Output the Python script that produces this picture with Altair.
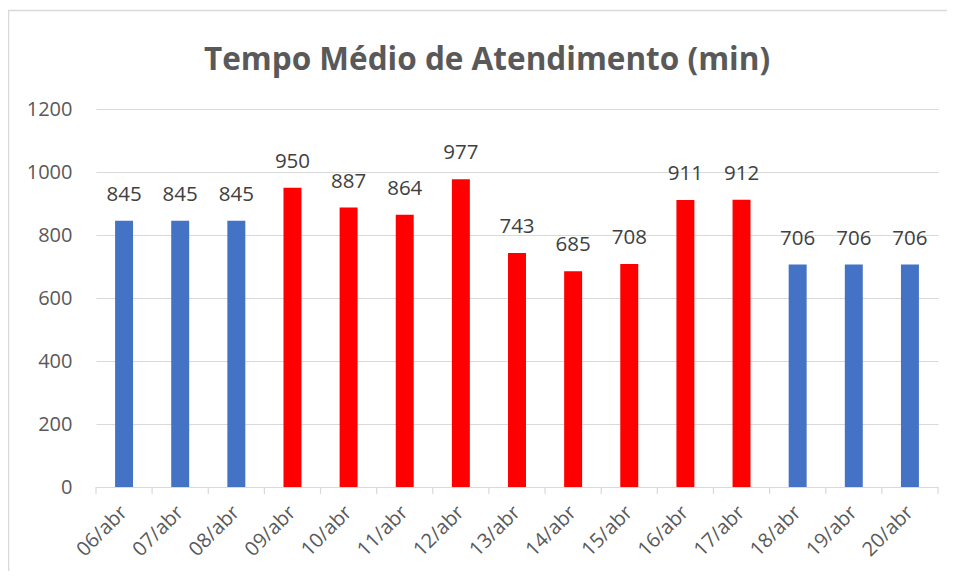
import altair as alt
import pandas as pd

dias = ["06/abr", "07/abr", "08/abr", "09/abr", "10/abr", "11/abr", "12/abr",
        "13/abr", "14/abr", "15/abr", "16/abr", "17/abr", "18/abr", "19/abr", "20/abr"]
valores = [845, 845, 845, 950, 887, 864, 977, 743, 685, 708, 911, 912, 706, 706, 706]
grupos = ["azul", "azul", "azul", "vermelho", "vermelho", "vermelho", "vermelho",
          "vermelho", "vermelho", "vermelho", "vermelho", "vermelho", "azul", "azul", "azul"]
y_ticks = [0, 200, 400, 600, 800, 1000, 1200]
titulo = "Tempo Médio de Atendimento (min)"

df = pd.DataFrame({"dia": dias, "valor": valores, "grupo": grupos})

W, H = 842, 378
FONT = "Open Sans"
FS = 20
GRID = "#d9d9d9"

x = alt.X("dia:N", sort=dias, title=None,
          scale=alt.Scale(paddingInner=0, paddingOuter=0),
          axis=alt.Axis(labelAngle=-45, labelAlign="right", labelBaseline="middle",
                        labelFontSize=FS, labelColor="#595959", labelFont=FONT,
                        labelPadding=22, ticks=False,
                        domainColor=GRID, domainWidth=1.2))
y = alt.Y("valor:Q", title=None,
          scale=alt.Scale(domain=[0, 1200], nice=False),
          axis=alt.Axis(values=y_ticks, format="d", labelFontSize=FS,
                        labelColor="#595959", labelFont=FONT, labelPadding=24,
                        ticks=False, domain=False,
                        gridColor=GRID, gridWidth=1.2))

bars = alt.Chart(df).mark_bar(width=alt.RelativeBandSize(0.32)).encode(
    x=x, y=y,
    color=alt.Color("grupo:N", legend=None,
                    scale=alt.Scale(domain=["azul", "vermelho"], range=["#4472C4", "#FF0000"])),
)
labels = alt.Chart(df).mark_text(baseline="middle", dy=-26, fontSize=20.5, font=FONT,
                                 color="#404040").encode(
    x=alt.X("dia:N", sort=dias), y=alt.Y("valor:Q"), text="valor:Q")

# category-boundary tick marks (Excel style)
ticks_start = alt.Chart(df).mark_rule(color=GRID, strokeWidth=1.2, clip=False).encode(
    x=alt.X("dia:N", sort=dias, bandPosition=0), y=alt.value(H), y2=alt.value(H + 7))
ticks_end = alt.Chart(df.tail(1)).mark_rule(color=GRID, strokeWidth=1.2, clip=False).encode(
    x=alt.X("dia:N", sort=dias, bandPosition=1), y=alt.value(H), y2=alt.value(H + 7))

one = pd.DataFrame({"a": [0]})
border = alt.Chart(one).mark_rect(
    fill=None, stroke=GRID, strokeWidth=1.5, clip=False).encode(
    x=alt.value(-87.5), x2=alt.value(W + 40), y=alt.value(-98.5), y2=alt.value(H + 120))
title = alt.Chart(one).mark_text(
    fontSize=31.5, font=FONT, fontWeight="bold", color="#595959",
    align="center", baseline="alphabetic", clip=False).encode(
    x=alt.value(W / 2 - 30), y=alt.value(-39), text=alt.value(titulo))

chart = alt.layer(border, title, bars, labels, ticks_start, ticks_end).properties(
    width=W, height=H,
    padding={"left": 88, "top": 101, "right": 9, "bottom": 84},
    autosize=alt.AutoSizeParams(type="none"),
).configure_view(stroke=None)

chart.save("out.html", embed_options={"renderer": "svg", "actions": False})
